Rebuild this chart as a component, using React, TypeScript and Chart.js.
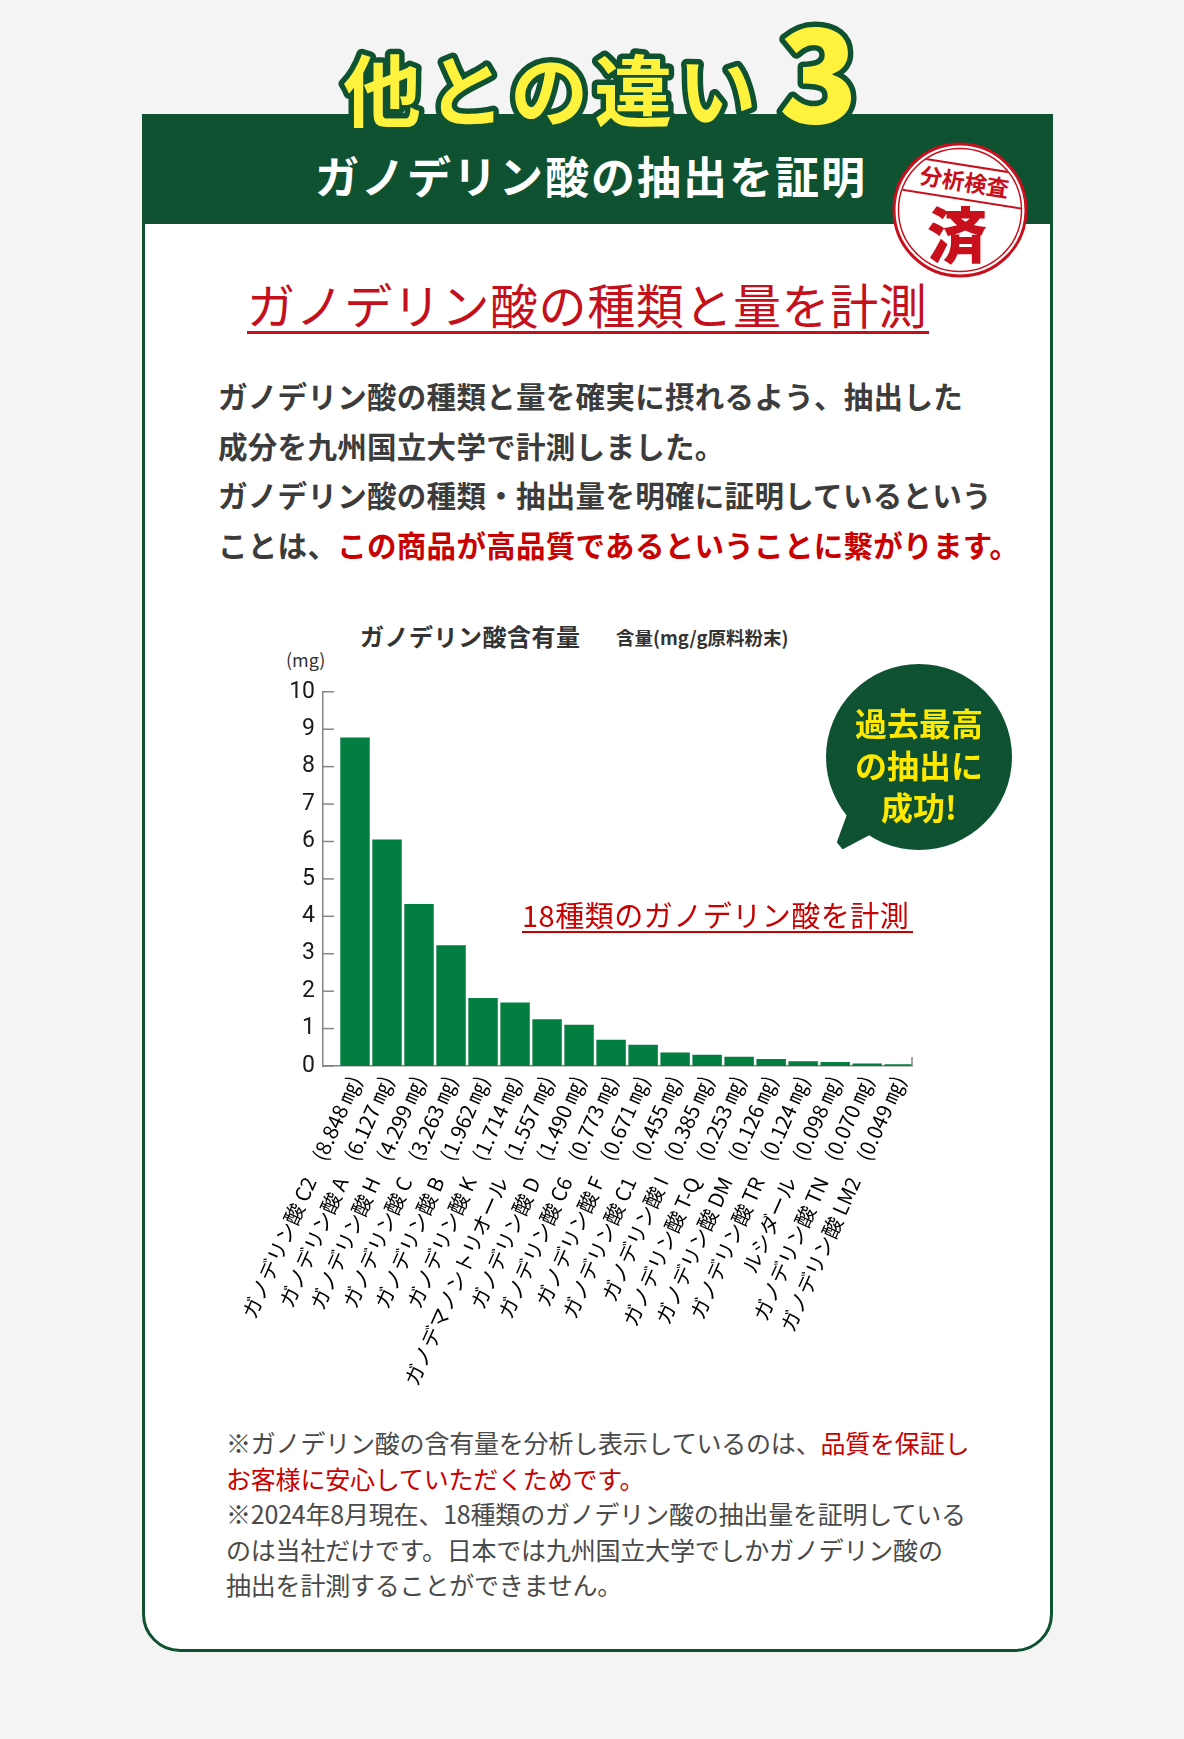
import React, { useEffect, useRef } from 'react';
import { Chart, registerables } from 'chart.js';

Chart.register(...registerables);

// ---- data ----
const categories = [
  'ガノデリン酸 C2', 'ガノデリン酸 A', 'ガノデリン酸 H', 'ガノデリン酸 C', 'ガノデリン酸 B',
  'ガノデリン酸 K', 'ガノデマノントリオール', 'ガノデリン酸 D', 'ガノデリン酸 C6', 'ガノデリン酸 F',
  'ガノデリン酸 C1', 'ガノデリン酸 I', 'ガノデリン酸 T-Q', 'ガノデリン酸 DM', 'ガノデリン酸 TR',
  'ルシダール', 'ガノデリン酸 TN', 'ガノデリン酸 LM2',
];
const amountLabels = [
  '8.848', '6.127', '4.299', '3.263', '1.962', '1.714', '1.557', '1.490', '0.773',
  '0.671', '0.455', '0.385', '0.253', '0.126', '0.124', '0.098', '0.070', '0.049',
];
const barHeights = [
  8.78, 6.05, 4.33, 3.23, 1.82, 1.70, 1.25, 1.10, 0.70,
  0.57, 0.36, 0.30, 0.25, 0.19, 0.13, 0.11, 0.07, 0.05,
];
const yMin = 0;
const yMax = 10;
const yStep = 1;

const GREEN = '#0e5232';
const BAR = '#017e40';
const RED = '#c8101c';
const JP = "'Noto Sans CJK JP', 'Noto Sans', sans-serif";

const axisDecor = {
  id: 'axisDecor',
  afterDatasetsDraw(chart: any) {
    const { ctx, chartArea, scales } = chart;
    const y = scales.y;
    ctx.save();
    ctx.strokeStyle = '#858585';
    ctx.lineWidth = 1.5;
    y.ticks.forEach((t: any) => {
      const py = y.getPixelForValue(t.value);
      ctx.beginPath();
      ctx.moveTo(chartArea.left, py);
      ctx.lineTo(chartArea.left + 11, py);
      ctx.stroke();
    });
    ctx.beginPath();
    ctx.moveTo(chartArea.right, chartArea.bottom);
    ctx.lineTo(chartArea.right, chartArea.bottom - 9);
    ctx.stroke();
    ctx.restore();
  },
};

function BarChart() {
  const ref = useRef<HTMLCanvasElement>(null);
  useEffect(() => {
    const chart = new Chart(ref.current as HTMLCanvasElement, {
      type: 'bar',
      data: {
        datasets: [
          {
            data: barHeights.map((v, i) => ({ x: i + 1, y: v })),
            backgroundColor: BAR,
            borderWidth: 0,
            barPercentage: 0.92,
            categoryPercentage: 1,
          },
        ],
      },
      options: {
        animation: false,
        responsive: false,
        maintainAspectRatio: false,
        layout: { padding: { top: 18, right: 20, left: 0, bottom: 0 } },
        plugins: { legend: { display: false }, tooltip: { enabled: false } },
        scales: {
          x: {
            type: 'linear',
            min: 0,
            max: 18.4,
            bounds: 'data',
            offset: false,
            grid: { display: false, drawTicks: false },
            border: { display: true, color: '#858585', width: 1.5 },
            afterBuildTicks: (s: any) => {
              s.ticks = categories.map((_, i) => ({ value: i + 1 }));
            },
            afterFit: (s: any) => {
              s.height = 320;
              s.paddingLeft = 0;
              s.paddingRight = 0;
            },
            ticks: {
              autoSkip: false,
              minRotation: 66,
              maxRotation: 66,
              padding: 6,
              color: '#000',
              font: { family: JP, size: 20.5 },
              callback: (_v: any, i: number) => `${categories[i]}\u3000(${amountLabels[i]} ㎎)`,
            },
          },
          y: {
            min: yMin,
            max: yMax,
            grid: { display: false, drawTicks: false },
            border: { display: true, color: '#858585', width: 1.5 },
            afterFit: (s: any) => {
              s.width = 83;
            },
            ticks: {
              stepSize: yStep,
              padding: 8,
              color: '#1a1a1a',
              font: { family: "'Liberation Sans Narrow', Roboto, sans-serif", size: 23 },
            },
          },
        },
      } as any,
      plugins: [axisDecor],
    });
    return () => chart.destroy();
  }, []);
  return (
    <canvas
      ref={ref}
      width={692}
      height={716}
      style={{ position: 'absolute', left: 240, top: 670, width: 692, height: 716 }}
    />
  );
}

const abs = (o: React.CSSProperties): React.CSSProperties => ({
  position: 'absolute',
  whiteSpace: 'nowrap',
  fontFamily: JP,
  ...o,
});

export default function App() {
  return (
    <div
      style={{
        position: 'absolute',
        left: 0,
        top: 0,
        width: 1184,
        height: 1739,
        background: '#f4f4f4',
        overflow: 'hidden',
        fontFamily: JP,
      }}
    >
      {/* card */}
      <div
        style={{
          position: 'absolute',
          left: 142,
          top: 114,
          width: 911,
          height: 1538,
          boxSizing: 'border-box',
          border: `3px solid ${GREEN}`,
          borderRadius: '0 0 38px 38px',
          background: '#fff',
        }}
      />
      {/* header band */}
      <div style={{ position: 'absolute', left: 142, top: 114, width: 911, height: 110, background: GREEN }} />

      {/* big title */}
      <svg style={{ position: 'absolute', left: 0, top: 0 }} width={1184} height={150}>
        <g fontFamily={JP} fill="#fff23c" stroke={GREEN} strokeWidth={11} strokeLinejoin="round" style={{ paintOrder: 'stroke' } as any}>
          <text x={343} y={121} fontSize={78} fontWeight={700} letterSpacing={6}>他との違い</text>
          <text x={779} y={123} fontSize={130} fontWeight={900}>3</text>
        </g>
      </svg>

      <div style={abs({ left: 315, top: 153, fontSize: 44, lineHeight: '44px', fontWeight: 700, color: '#fff', letterSpacing: 2 })}>
        ガノデリン酸の抽出を証明
      </div>

      {/* stamp */}
      <svg style={{ position: 'absolute', left: 880, top: 130 }} width={160} height={160}>
        <defs>
          <clipPath id="stampClip">
            <circle cx={0} cy={0} r={61} />
          </clipPath>
        </defs>
        <g transform="translate(80,80)">
          <circle r={66} fill="#fff" stroke={RED} strokeWidth={3} />
          <circle r={61.5} fill="none" stroke={RED} strokeWidth={1.5} />
          <g transform="rotate(9)">
            <g clipPath="url(#stampClip)">
              <line x1={-70} x2={70} y1={-45} y2={-45} stroke={RED} strokeWidth={2} />
              <line x1={-70} x2={70} y1={-11} y2={-11} stroke={RED} strokeWidth={2} />
            </g>
            <text x={0} y={-20} textAnchor="middle" fontFamily={JP} fontSize={22.5} fontWeight={700} fill={RED}>
              分析検査
            </text>
          </g>
          <text x={-3} y={48} textAnchor="middle" fontFamily={JP} fontSize={60} fontWeight={900} fill={RED}>
            済
          </text>
        </g>
      </svg>

      {/* red heading */}
      <div style={abs({ left: 247, top: 279, fontSize: 48, lineHeight: '48px', color: '#c4101c', letterSpacing: 0.6 })}>
        ガノデリン酸の種類と量を計測
      </div>
      <div style={{ position: 'absolute', left: 247, top: 331, width: 682, height: 3, background: '#c4101c' }} />

      {/* paragraph */}
      <div style={abs({ left: 218, top: 371, fontSize: 29.5, lineHeight: '49.5px', fontWeight: 700, color: '#3c3c3c', letterSpacing: 0.3 })}>
        ガノデリン酸の種類と量を確実に摂れるよう、抽出した
        <br />
        成分を九州国立大学で計測しました。
        <br />
        ガノデリン酸の種類・抽出量を明確に証明しているという
        <br />
        ことは、<span style={{ color: '#c80000' }}>この商品が高品質であるということに繋がります。</span>
      </div>

      {/* chart headings */}
      <div style={abs({ left: 360, top: 624, fontSize: 24, lineHeight: '24px', fontWeight: 700, color: '#333', letterSpacing: 0.5 })}>
        ガノデリン酸含有量
      </div>
      <div style={abs({ left: 616, top: 627, fontSize: 18.5, lineHeight: '20px', fontWeight: 700, color: '#333' })}>
        含量(mg/g原料粉末)
      </div>
      <div style={abs({ left: 286, top: 649, fontSize: 18, lineHeight: '20px', color: '#333' })}>(mg)</div>

      <BarChart />

      {/* annotation */}
      <div style={abs({ left: 522, top: 900, fontSize: 29, lineHeight: '29px', color: '#c80000', letterSpacing: 0.5 })}>
        18種類のガノデリン酸を計測
      </div>
      <div style={{ position: 'absolute', left: 522, top: 931, width: 391, height: 2, background: '#c80000' }} />

      {/* bubble */}
      <svg style={{ position: 'absolute', left: 0, top: 0 }} width={1184} height={900}>
        <circle cx={919} cy={757} r={93} fill={GREEN} />
        <polygon
          points="852,805 838.5,842 843,847.5 878,829"
          fill={GREEN}
          stroke={GREEN}
          strokeWidth={3}
          strokeLinejoin="round"
        />
      </svg>
      <div
        style={abs({
          left: 819,
          top: 701,
          width: 200,
          textAlign: 'center',
          fontSize: 32,
          lineHeight: '42px',
          fontWeight: 700,
          color: '#ffe900',
        })}
      >
        過去最高
        <br />
        の抽出に
        <br />
        成功!
      </div>

      {/* footnote */}
      <div style={abs({ left: 226, top: 1425, fontSize: 25, lineHeight: '35.5px', color: '#4a4a4a', letterSpacing: -0.2 })}>
        ※ガノデリン酸の含有量を分析し表示しているのは、<span style={{ color: '#c80000' }}>品質を保証し</span>
        <br />
        <span style={{ color: '#c80000' }}>お客様に安心していただくためです。</span>
        <br />
        ※2024年8月現在、18種類のガノデリン酸の抽出量を証明している
        <br />
        のは当社だけです。日本では九州国立大学でしかガノデリン酸の
        <br />
        抽出を計測することができません。
      </div>
    </div>
  );
}
